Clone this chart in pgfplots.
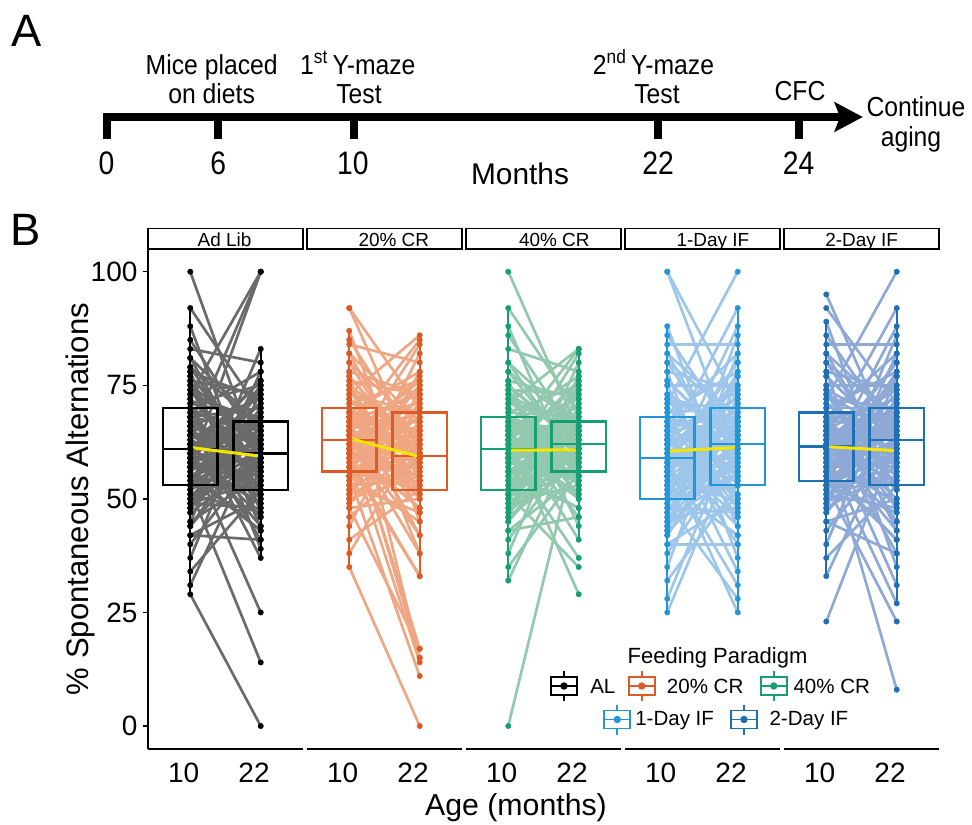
\documentclass[border=0pt]{standalone}
\usepackage{fontspec}
\setmainfont{Liberation Sans}
\newfontfamily\narrowfont[FakeStretch=0.9]{Liberation Sans}
\newfontfamily\numfont[FakeStretch=0.87]{Liberation Sans}
\usepackage{pgfplots}
\pgfplotsset{compat=1.18}
\usepackage{pgfplotstable}

\definecolor{ALdark}{HTML}{000000}
\definecolor{ALline}{HTML}{6A6A6A}
\definecolor{CRadark}{HTML}{DE5A24}
\definecolor{CRaline}{HTML}{EFA783}
\definecolor{CRbdark}{HTML}{16A072}
\definecolor{CRbline}{HTML}{92C8AE}
\definecolor{IFadark}{HTML}{2196D8}
\definecolor{IFaline}{HTML}{9DC6EA}
\definecolor{IFbdark}{HTML}{1F6FB5}
\definecolor{IFbline}{HTML}{8EA9D6}
\definecolor{meanyellow}{HTML}{F3E500}

% a = % alternations at 10 months, b = same mouse at 22 months
\pgfplotstableread{
a b
29 0
31 64
34 52
37 74
40 60
42 41
44 66
45 55
47 83
48 62
49 48
50 70
51 58
52 14
53 64
53 52
54 75
55 60
55 43
56 67
57 56
57 100
58 62
58 49
59 71
59 58
60 25
60 65
61 53
61 76
61 60
62 44
62 67
63 56
64 100
64 63
65 50
66 72
66 59
67 37
68 65
68 54
69 78
70 61
70 46
71 68
72 57
73 100
74 63
75 51
76 73
77 59
78 39
79 66
81 54
83 80
85 61
88 47
92 69
100 57
42 50
44 62
45 78
47 58
48 69
49 54
50 64
51 47
52 60
53 74
53 57
54 67
55 52
55 63
56 43
57 59
57 71
58 55
58 65
59 49
59 61
60 76
60 58
61 68
61 53
61 64
62 46
62 60
63 73
64 56
64 66
65 51
66 62
66 41
67 59
68 70
68 54
69 65
70 48
70 61
71 75
72 57
73 67
74 52
75 63
76 44
77 60
78 72
79 56
81 66
}\dataAL

\pgfplotstableread{
a b
35 0
38 64
41 52
44 74
46 59
48 17
49 67
50 55
51 82
52 62
53 47
54 71
55 58
55 11
56 65
56 52
57 75
57 59
58 33
59 68
59 55
60 84
60 62
61 48
61 72
62 58
62 14
63 65
63 53
63 76
63 60
64 38
64 69
65 56
65 85
66 63
66 50
67 73
67 59
68 15
68 65
69 54
69 78
70 60
70 42
71 69
72 57
73 86
74 63
75 51
76 73
77 59
78 15
80 66
82 54
84 80
85 61
87 45
92 70
92 57
48 50
49 62
50 78
51 58
52 70
53 54
54 65
55 45
55 60
56 75
56 57
57 68
57 52
58 63
59 33
59 59
60 72
60 55
61 66
61 48
62 61
62 77
63 58
63 69
63 53
63 64
64 42
64 59
65 74
65 56
66 67
66 51
67 62
67 17
68 59
68 71
69 54
69 65
70 47
70 60
71 76
72 57
73 69
74 52
75 63
76 38
77 59
78 73
80 55
82 67
}\dataCRa

\pgfplotstableread{
a b
0 64
32 65
35 56
38 74
41 62
43 46
45 66
46 58
47 80
48 63
49 53
50 70
51 60
51 35
52 65
52 56
53 75
54 62
55 48
56 67
56 59
57 82
58 64
58 54
59 71
59 61
60 37
60 60
61 57
61 76
61 62
62 50
62 67
63 59
63 83
64 29
64 55
65 72
65 61
66 41
66 66
67 57
67 77
68 63
68 51
69 68
70 60
71 83
72 64
73 55
74 73
75 61
76 44
78 66
80 58
83 78
86 63
88 52
92 69
100 65
43 55
45 63
46 77
47 61
48 69
49 57
50 65
51 52
51 62
52 74
52 60
53 67
54 56
55 64
56 48
56 61
57 71
58 58
58 66
59 54
59 63
60 76
60 60
61 68
61 57
61 65
62 51
62 62
63 73
63 59
64 66
64 55
65 64
65 46
66 61
66 70
67 58
67 65
68 53
68 63
69 75
70 60
71 67
72 56
73 64
74 50
75 62
76 72
78 59
80 66
}\dataCRb

\pgfplotstableread{
a b
25 62
28 66
32 53
35 77
38 61
40 40
42 68
43 56
44 86
45 64
46 48
47 72
48 59
49 28
50 66
50 53
51 78
52 62
53 42
53 69
54 57
55 88
55 64
56 49
56 73
57 60
57 31
58 67
58 54
59 80
59 25
60 44
60 70
61 57
62 92
62 65
63 50
63 74
64 60
65 34
65 67
66 55
67 82
67 63
68 46
69 70
70 58
71 100
72 65
73 51
75 75
76 61
78 37
80 68
82 55
84 84
86 63
88 47
100 71
100 59
40 50
42 64
43 82
44 60
45 71
46 55
47 66
48 47
49 62
50 77
50 58
51 69
52 53
53 65
53 42
54 61
55 73
55 56
56 67
56 49
57 63
57 80
58 59
58 70
59 54
59 66
60 46
60 62
61 75
62 57
62 68
63 51
63 64
64 40
65 60
65 72
66 55
67 67
67 48
68 63
69 78
70 59
71 70
72 53
73 65
75 44
76 61
78 74
80 57
82 68
}\dataIFa

\pgfplotstableread{
a b
23 63
33 66
37 53
40 77
43 62
45 38
47 68
48 57
49 86
50 64
51 48
52 72
53 60
53 23
54 66
54 53
55 78
56 63
56 41
57 69
57 58
58 88
58 65
59 49
59 73
60 61
60 27
61 67
61 54
61 80
62 8
62 43
63 70
63 58
64 92
64 65
65 50
65 74
66 61
66 31
67 67
67 55
68 82
68 63
69 45
70 70
71 59
72 100
73 64
74 52
75 75
77 62
78 35
80 68
82 56
84 84
86 64
89 47
92 71
95 60
45 50
47 64
48 82
49 61
50 71
51 55
52 67
53 47
53 63
54 77
54 59
55 69
56 53
56 65
57 41
57 62
58 73
58 57
59 68
59 49
60 64
60 80
61 60
61 70
61 54
62 66
62 45
63 63
63 75
64 58
64 69
65 52
65 65
66 38
66 61
67 72
67 56
68 67
68 48
69 63
70 78
71 60
72 70
73 53
74 66
75 43
77 62
78 74
80 58
82 68
}\dataIFb

\pgfplotsset{
 facet/.style={scale only axis, width=116.25pt, height=374.8pt, anchor=south west,
   xmin=0.4, xmax=2.6, ymin=-5, ymax=105,
   axis x line*=bottom, axis y line*=left,
   xtick={1,2}, xticklabels={10,22},
   ytick={0,25,50,75,100},
   tick align=outside, major tick length=3.75pt,
   xtick style={draw=none},
   ytick style={line width=1pt, black},
   axis line style={line width=1.6pt, black},
   ticklabel style={font=\fontsize{21}{25}\selectfont},
   /pgf/number format/assume math mode=true,
   xticklabel style={anchor=north, inner sep=0pt, yshift=-6.5pt, xshift=-5pt},
   yticklabel style={anchor=east, inner sep=0pt, xshift=-4pt},
 },
 noy/.style={axis y line=none, ytick=\empty},
}

% paired lines from 10 to 22 months
\newcommand\pairlines[2]{%
 \addplot[draw=#2, line width=2pt, quiver={u=1, v=\thisrow{b}-\thisrow{a}}] table[x expr=1, y=a] {#1};
}
% individual points
\newcommand\pairpoints[2]{%
 \addplot[only marks, mark=*, mark size=2pt, color=#2] table[x expr=1, y=a] {#1};
 \addplot[only marks, mark=*, mark size=2pt, color=#2] table[x expr=2, y=b] {#1};
}
% box: left, centre, right, lower whisker, Q1, median, Q3, upper whisker, colour
\newcommand\boxp[9]{%
 \addplot[draw=#9, line width=1.7pt, line join=miter] coordinates {(#1,#5) (#3,#5) (#3,#7) (#1,#7) (#1,#5) (#3,#5)};
 \addplot[draw=#9, line width=1.7pt] coordinates {(#1,#6) (#3,#6)};
 \addplot[draw=#9, line width=1.7pt] coordinates {(#2,#4) (#2,#5)};
 \addplot[draw=#9, line width=1.7pt] coordinates {(#2,#7) (#2,#8)};
}

\newcommand\leg[3]{%
 \draw[#3, line width=1.3pt] (axis cs:#1,#2) ++(-9.75pt,-6.75pt) rectangle ++(19.5pt,13.5pt);
 \draw[#3, line width=1.3pt] (axis cs:#1,#2) ++(-9.75pt,0pt) -- ++(19.5pt,0pt);
 \draw[#3, line width=1.3pt] (axis cs:#1,#2) ++(0pt,6.75pt) -- ++(0pt,4.5pt);
 \draw[#3, line width=1.3pt] (axis cs:#1,#2) ++(0pt,-6.75pt) -- ++(0pt,-4.5pt);
 \fill[#3] (axis cs:#1,#2) circle[radius=2.8pt];
}

\begin{document}
\begin{tikzpicture}
\useasboundingbox (0pt,0pt) rectangle (729pt,618.75pt);

\begin{axis}[facet, at={(111pt,57.2pt)}]
 \pairlines{\dataAL}{ALline}
 \boxp{0.615}{1}{1.385}{29}{53}{61}{70}{92}{ALdark}
 \boxp{1.615}{2}{2.385}{37}{52}{60}{67}{83}{ALdark}
 \pairpoints{\dataAL}{ALdark}
 \addplot[meanyellow, line width=2.3pt] coordinates {(1,61.3) (2,59.4)};
\end{axis}
\begin{axis}[facet, noy, at={(230.25pt,57.2pt)}]
 \pairlines{\dataCRa}{CRaline}
 \boxp{0.615}{1}{1.385}{35}{56}{63}{70}{87}{CRadark}
 \boxp{1.615}{2}{2.385}{33}{52}{59.5}{69}{86}{CRadark}
 \pairpoints{\dataCRa}{CRadark}
 \addplot[meanyellow, line width=2.3pt] coordinates {(1,63.3) (2,59.3)};
\end{axis}
\begin{axis}[facet, noy, at={(349.5pt,57.2pt)}]
 \pairlines{\dataCRb}{CRbline}
 \boxp{0.615}{1}{1.385}{32}{52}{61}{68}{92}{CRbdark}
 \boxp{1.615}{2}{2.385}{41}{56}{62}{67}{83}{CRbdark}
 \pairpoints{\dataCRb}{CRbdark}
 \addplot[meanyellow, line width=2.3pt] coordinates {(1,60.7) (2,60.8)};
\end{axis}
\begin{axis}[facet, noy, at={(468.75pt,57.2pt)}]
 \pairlines{\dataIFa}{IFaline}
 \boxp{0.615}{1}{1.385}{25}{50}{59}{68}{88}{IFadark}
 \boxp{1.615}{2}{2.385}{25}{53}{62}{70}{92}{IFadark}
 \pairpoints{\dataIFa}{IFadark}
 \addplot[meanyellow, line width=2.3pt] coordinates {(1,60.5) (2,61.3)};
\end{axis}
\begin{axis}[facet, noy, at={(588pt,57.2pt)}]
 \pairlines{\dataIFb}{IFbline}
 \boxp{0.615}{1}{1.385}{33}{54}{61.5}{69}{89}{IFbdark}
 \boxp{1.615}{2}{2.385}{27}{53}{63}{70}{92}{IFbdark}
 \pairpoints{\dataIFb}{IFbdark}
 \addplot[meanyellow, line width=2.3pt] coordinates {(1,61.5) (2,60.6)};
\end{axis}

% frame axis in pixel units of the reference (y downwards)
\begin{axis}[at={(0pt,0pt)}, anchor=south west, scale only axis, width=729pt, height=618.75pt,
  xmin=0, xmax=972, ymin=0, ymax=825, y dir=reverse, hide axis, clip=false]
 % timeline (panel A)
 \addplot[fill=black, draw=none] coordinates {(102.7,113.3) (840,113.3) (840,120.7) (102.7,120.7)};
 \addplot[fill=black, draw=none] coordinates {(102.7,113.3) (111,113.3) (111,139.3) (102.7,139.3)};
 \addplot[fill=black, draw=none] coordinates {(213.5,113.3) (221.9,113.3) (221.9,139.3) (213.5,139.3)};
 \addplot[fill=black, draw=none] coordinates {(349.5,113.3) (357.9,113.3) (357.9,139.3) (349.5,139.3)};
 \addplot[fill=black, draw=none] coordinates {(653.5,113.3) (661.9,113.3) (661.9,139.3) (653.5,139.3)};
 \addplot[fill=black, draw=none] coordinates {(794.8,113.3) (803.2,113.3) (803.2,139.3) (794.8,139.3)};
 \addplot[fill=black, draw=none] coordinates {(834,101.7) (862.7,117) (834,132.3) (840,117)};

 \node[font=\fontsize{34}{40}\selectfont, anchor=base] at (axis cs:26.7,46) {A};
 \node[font=\fontsize{34}{40}\selectfont, anchor=base] at (axis cs:26,245) {B};

 \node[font=\narrowfont\fontsize{20.6}{24}\selectfont, anchor=base] at (axis cs:211.7,74) {Mice placed};
 \node[font=\narrowfont\fontsize{20.6}{24}\selectfont, anchor=base] at (axis cs:211.7,103) {on diets};
 \node[font=\narrowfont\fontsize{20.6}{24}\selectfont, anchor=base] at (axis cs:357.8,74) {1\textsuperscript{st}\,Y-maze};
 \node[font=\narrowfont\fontsize{20.6}{24}\selectfont, anchor=base] at (axis cs:359,103) {Test};
 \node[font=\narrowfont\fontsize{20.6}{24}\selectfont, anchor=base] at (axis cs:653.5,74) {2\textsuperscript{nd}\,Y-maze};
 \node[font=\narrowfont\fontsize{20.6}{24}\selectfont, anchor=base] at (axis cs:657,103) {Test};
 \node[font=\narrowfont\fontsize{20.6}{24}\selectfont, anchor=base] at (axis cs:800,100) {CFC};
 \node[font=\narrowfont\fontsize{20.6}{24}\selectfont, anchor=base] at (axis cs:916,116.7) {Continue};
 \node[font=\narrowfont\fontsize{20.6}{24}\selectfont, anchor=base] at (axis cs:911,146) {aging};

 \node[font=\numfont\fontsize{24.4}{28}\selectfont, anchor=base] at (axis cs:106.5,174) {0};
 \node[font=\numfont\fontsize{24.4}{28}\selectfont, anchor=base] at (axis cs:218.3,174) {6};
 \node[font=\numfont\fontsize{24.4}{28}\selectfont, anchor=base] at (axis cs:352.8,174) {10};
 \node[font=\numfont\fontsize{24.4}{28}\selectfont, anchor=base] at (axis cs:658,174) {22};
 \node[font=\numfont\fontsize{24.4}{28}\selectfont, anchor=base] at (axis cs:798.5,174) {24};
 \node[font=\fontsize{22.4}{26}\selectfont, anchor=base] at (axis cs:520,184) {Months};

 % facet strips
 \draw[line width=1.3pt] (axis cs:148,228.5) rectangle (axis cs:303,249.3);
 \draw[line width=1.3pt] (axis cs:307,228.5) rectangle (axis cs:462,249.3);
 \draw[line width=1.3pt] (axis cs:466,228.5) rectangle (axis cs:621,249.3);
 \draw[line width=1.3pt] (axis cs:625,228.5) rectangle (axis cs:780,249.3);
 \draw[line width=1.3pt] (axis cs:784,228.5) rectangle (axis cs:939,249.3);
 \node[font=\fontsize{14.2}{17}\selectfont, anchor=base] at (axis cs:224.5,246) {Ad Lib};
 \node[font=\fontsize{14.2}{17}\selectfont, anchor=base] at (axis cs:393.8,246) {20\% CR};
 \node[font=\fontsize{14.2}{17}\selectfont, anchor=base] at (axis cs:554.3,246) {40\% CR};
 \node[font=\fontsize{14.2}{17}\selectfont, anchor=base] at (axis cs:712.8,246) {1-Day IF};
 \node[font=\fontsize{14.2}{17}\selectfont, anchor=base] at (axis cs:861.7,246) {2-Day IF};

 % axis titles
 \node[rotate=90, anchor=base, font=\fontsize{23.3}{28}\selectfont] at (axis cs:88.3,499) {\% Spontaneous Alternations};
 \node[anchor=base, font=\fontsize{22.7}{27}\selectfont] at (axis cs:516,815) {Age (months)};

 % legend
 \node[anchor=base, font=\fontsize{16.5}{20}\selectfont] at (axis cs:717.5,663.3) {Feeding Paradigm};
 \leg{564}{686}{ALdark}
 \leg{641.7}{686}{CRadark}
 \leg{773.7}{686}{CRbdark}
 \leg{617.3}{719.5}{IFadark}
 \leg{744}{719.5}{IFbdark}
 \node[anchor=base west, inner sep=0pt, font=\fontsize{15.4}{18}\selectfont] at (axis cs:590,693.3) {AL};
 \node[anchor=base west, inner sep=0pt, font=\fontsize{15.4}{18}\selectfont] at (axis cs:666.7,693.3) {20\% CR};
 \node[anchor=base west, inner sep=0pt, font=\fontsize{15.4}{18}\selectfont] at (axis cs:793.3,693.3) {40\% CR};
 \node[anchor=base west, inner sep=0pt, font=\fontsize{15.4}{18}\selectfont] at (axis cs:635,725) {1-Day IF};
 \node[anchor=base west, inner sep=0pt, font=\fontsize{15.4}{18}\selectfont] at (axis cs:769.3,725) {2-Day IF};
\end{axis}
\end{tikzpicture}
\end{document}
